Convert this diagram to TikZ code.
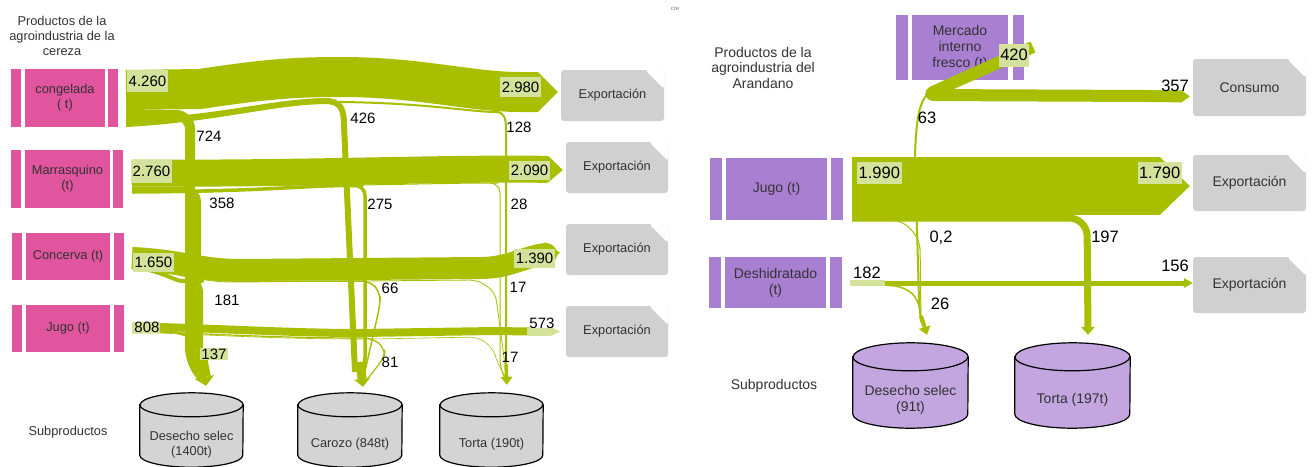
\documentclass[tikz,border=0pt]{standalone}
\usepackage{fontspec}
\setmainfont{Liberation Sans}
\usetikzlibrary{arrows.meta,positioning,calc}

\definecolor{cherry}{HTML}{E0559D}
\definecolor{berry}{HTML}{A97FD2}
\definecolor{berrycyl}{HTML}{C3A6DF}
\definecolor{lime}{HTML}{A8BF00}
\definecolor{limelight}{HTML}{D5E29C}
\definecolor{boxgray}{HTML}{D0D0D0}
\definecolor{cylgray}{HTML}{D4D4D4}
\definecolor{txt}{HTML}{333333}

\newcommand{\lsize}{\fontsize{12.8}{15}\selectfont}
\newcommand{\lnum}{\fontsize{15}{17}\selectfont}
\newcommand{\rsize}{\fontsize{14}{16}\selectfont}
\newcommand{\rnum}{\fontsize{16.5}{18}\selectfont}

% drum shape around a node: node, x radius, y radius, fill
\newcommand{\drum}[4]{%
  \filldraw[fill=#4,draw=black,line width=1.2pt]
    ([yshift=-#3]#1.north west) -- ([yshift=#3]#1.south west)
    arc[start angle=180,end angle=360,x radius=#2,y radius=#3]
    -- ([yshift=-#3]#1.north east)
    arc[start angle=0,end angle=180,x radius=#2,y radius=#3] -- cycle;
  \draw[line width=1.2pt] ([yshift=-#3]#1.north west)
    arc[start angle=180,end angle=360,x radius=#2,y radius=#3];}

\begin{document}
\begin{tikzpicture}[x=1pt,y=-1pt,
    prod/.style={fill=#1,text=txt,align=center,inner sep=0pt},
    bar/.style={fill=#1,minimum width=10pt,inner sep=0pt},
    outbox/.style={rectangle,fill=boxgray,rounded corners=3pt,text=txt,inner sep=0pt,
      path picture={\fill[white] ([xshift=-19pt]path picture bounding box.north east)
        -- (path picture bounding box.north east)
        -- ([yshift=-19pt]path picture bounding box.north east) -- cycle;}},
    cylbox/.style={inner sep=0pt},
    flow/.style={draw=lime,line width=#1,line join=round},
    pale/.style={draw=limelight,line width=#1},
    flowhead/.style 2 args={-{Triangle[length=#1,width=#2,line width=0pt]}},
    val/.style={fill=limelight,inner sep=1.5pt,text=black},
    num/.style={text=black,inner sep=0pt},
    ttl/.style={align=center,text=txt,inner sep=0pt}
  ]
  \fill[white] (0,0) rectangle (1313,466);
  \useasboundingbox (0,0) rectangle (1313,466);

  % ---------- cereza ----------
  \node[ttl,font=\lsize] (lttl) at (62,35.5) {Productos de la\\agroindustria de la\\cereza};
  \node[ttl,font=\lsize] (lsub) at (68,432) {Subproductos};
  \node[ttl,font=\fontsize{6}{7}\selectfont,text=gray] (cre) at (675,9) {cre};

  \node[prod=cherry,font=\lsize,minimum width=80pt,minimum height=58pt] (cong) at (65,98) {congelada\\( t)};
  \node[bar=cherry,minimum height=58pt,left=3.5pt of cong] (congL) {};
  \node[bar=cherry,minimum height=58pt,right=3pt of cong] (congR) {};
  \node[prod=cherry,font=\lsize,minimum width=85pt,minimum height=58pt] (mar) at (67.5,179) {Marrasquino\\(t)};
  \node[bar=cherry,minimum height=58pt,left=3.5pt of mar] (marL) {};
  \node[bar=cherry,minimum height=58pt,right=3pt of mar] (marR) {};
  \node[prod=cherry,font=\lsize,minimum width=84pt,minimum height=47pt] (con) at (68,256.5) {Concerva (t)};
  \node[bar=cherry,minimum height=47pt,left=4pt of con] (conL) {};
  \node[bar=cherry,minimum height=47pt,right=4pt of con] (conR) {};
  \node[prod=cherry,font=\lsize,minimum width=84pt,minimum height=47pt] (jug) at (68,328.5) {Jugo (t)};
  \node[bar=cherry,minimum height=47pt,left=4pt of jug] (jugL) {};
  \node[bar=cherry,minimum height=47pt,right=4pt of jug] (jugR) {};

  % destinos
  \node[outbox,font=\lsize,minimum width=103pt,minimum height=51pt] (ex1) at (612.5,95.5) {Exportación};
  \node[outbox,font=\lsize,minimum width=102pt,minimum height=51pt] (ex2) at (617,167.5) {Exportación};
  \node[outbox,font=\lsize,minimum width=102pt,minimum height=51pt] (ex3) at (617,249.5) {Exportación};
  \node[outbox,font=\lsize,minimum width=102pt,minimum height=51pt] (ex4) at (617,331.5) {Exportación};

  % subproductos
  \node[cylbox,minimum width=103pt,minimum height=74pt] (des) at (191.5,430) {};
  \node[cylbox,minimum width=104pt,minimum height=74pt] (car) at (350,430) {};
  \node[cylbox,minimum width=103pt,minimum height=74pt] (tor) at (491.5,430) {};
  \drum{des}{51.5pt}{12pt}{cylgray}
  \drum{car}{52pt}{12pt}{cylgray}
  \drum{tor}{51.5pt}{12pt}{cylgray}
  \node[ttl,font=\lsize] (desT) at (191.5,445) {Desecho selec\\(1400t)};
  \node[ttl,font=\lsize] (carT) at (350,444) {Carozo (848t)};
  \node[ttl,font=\lsize] (torT) at (491.5,444) {Torta (190t)};

  % congelada
  \coordinate (cgS) at (126,90);
  \draw[flow=40,flowhead={20pt}{40pt}] (cgS) -- (200,89) .. controls (260,80) and (290,77) .. (340,77)
    .. controls (420,77) and (470,92) .. (520,92) -- ($(ex1.west)+(-3,-3.5)$);
  \draw[flow=10,rounded corners=14pt] (126,115) -- (190,115) -- (190,362) -- (203,378);
  \draw[flow=6] (126,122) .. controls (220,119) and (270,102) .. (325,101)
    .. controls (340,101) and (344,108) .. (344,125) -- (355,372);
  \draw[flow=2] (126,126) .. controls (220,121) and (270,103) .. (330,102)
    .. controls (420,102) and (470,112) .. (496,112) .. controls (503,112) and (506,117) .. (506,128) -- (506,372);

  % marrasquino
  \coordinate (mrS) at (132,173);
  \draw[flow=27,flowhead={15pt}{27pt}] (mrS) .. controls (300,174) and (400,169) .. (530,169) -- ($(ex2.west)+(-3,2.5)$);
  \draw[flow=6,rounded corners=12pt] (132,189.5) -- (198,189.5) -- (198,362) -- (203,378);
  \draw[flow=3.5,rounded corners=10pt] (132,191.5) .. controls (250,192) and (300,186) .. (352,185.5)
    -- (365,185.5) -- (365,368) -- (362,380);
  \draw[flow=1,rounded corners=10pt] (132,193) .. controls (250,193) and (300,186) .. (360,185)
    .. controls (420,184) and (470,183) .. (488,183) -- (500,183) -- (500,370) -- (506,380);

  % concerva
  \coordinate (cvS) at (132,258);
  \draw[flow=22,flowhead={14pt}{24pt}] (cvS) .. controls (180,260) and (200,270) .. (240,270) -- (480,268)
    .. controls (510,268) and (525,256) .. (546,254) -- ($(ex3.west)+(-6,3)$);
  \draw[flow=4,rounded corners=10pt] (132,267) .. controls (160,270) and (175,281) .. (192,281)
    -- (201,281) -- (201,362) -- (204,378);
  \draw[flow=1.5,rounded corners=8pt] (132,268) .. controls (180,272) and (200,281) .. (240,281)
    -- (370,281) -- (380,292) -- (380,305) -- (363,380);
  \draw[flow=0.8,rounded corners=8pt] (132,269) .. controls (180,273) and (200,282) .. (240,282)
    -- (478,280) -- (495,292) -- (497,305) -- (507,380);

  % jugo
  \coordinate (jgS) at (132,327.5);
  \draw[flow=8] (jgS) -- (160,327) .. controls (250,330) and (300,333) .. (360,333) -- (495,331) -- (530,331.5);
  \draw[pale=8,flowhead={10pt}{10pt}] (527,331.5) -- ($(ex4.west)+(-6,0)$);
  \draw[flow=2.5,rounded corners=10pt] (132,331) -- (172,331) -- (201,340) -- (203,362) -- (204,378);
  \draw[flow=1.2,rounded corners=8pt] (132,332) -- (160,332) .. controls (250,336) and (300,338) .. (372,338)
    -- (385,348) -- (384,358) -- (365,382);
  \draw[flow=0.6,rounded corners=8pt] (132,333) -- (160,333) .. controls (250,337) and (300,339) .. (372,339)
    -- (478,337) -- (493,348) -- (497,362) -- (507,380);
  \draw[pale=11] (jgS) -- (160,327.5);

  % llegada a subproductos
  \draw[flow=13,flowhead={9pt}{20pt}] (201,360) -- ($(des.north)+(14.5,-7)$);
  \draw[flow=9,flowhead={8pt}{16pt}] (360,362) -- ($(car.north)+(13,-6)$);
  \draw[flow=3.5,flowhead={8pt}{12pt}] (506,365) -- ($(tor.north)+(15.5,-8)$);

  % valores
  \node[val,font=\lnum,anchor=north west,minimum height=22pt] (v4260) at (127,70) {4.260};
  \node[val,font=\lnum,anchor=north east,minimum height=20pt] (v2980) at (541,77) {2.980};
  \node[val,font=\lnum,anchor=north west,minimum height=23pt] (v2760) at (131,160) {2.760};
  \node[val,font=\lnum,anchor=north east,minimum height=19pt] (v2090) at (550,161) {2.090};
  \node[val,font=\lnum,anchor=north west,minimum height=19pt] (v1650) at (133,253) {1.650};
  \node[val,font=\lnum,anchor=north east,minimum height=19pt] (v1390) at (555,249) {1.390};
  \node[num,font=\lnum] (v808) at (147,327.5) {808};
  \node[num,font=\lnum] (v573) at (542,323.5) {573};
  \node[val,font=\lnum,inner sep=1pt] (v137) at (214,354) {137};
  \node[num,font=\lnum] (v724) at (209,136) {724};
  \node[num,font=\lnum] (v358) at (222,203) {358};
  \node[num,font=\lnum] (v426) at (363,118) {426};
  \node[num,font=\lnum] (v128) at (519,127) {128};
  \node[num,font=\lnum] (v275) at (380,204) {275};
  \node[num,font=\lnum] (v28) at (519,204) {28};
  \node[num,font=\lnum] (v181) at (227,300) {181};
  \node[num,font=\lnum] (v66) at (390,288) {66};
  \node[num,font=\lnum] (v17a) at (518,287) {17};
  \node[num,font=\lnum] (v81) at (390,362) {81};
  \node[num,font=\lnum] (v17b) at (510,357) {17};

  % ---------- arandano ----------
  \node[ttl,font=\fontsize{14}{15.5}\selectfont] (rttl) at (763,67.5) {Productos de la\\agroindustria del\\Arandano};
  \node[ttl,font=\rsize] (rsub) at (774,386) {Subproductos};

  \node[prod=berry,font=\fontsize{14}{16}\selectfont,minimum width=96pt,minimum height=65pt] (mer) at (960,47.5) {Mercado\\interno\\fresco (t)};
  \node[bar=berry,minimum width=12pt,minimum height=65pt,left=4pt of mer] (merL) {};
  \node[bar=berry,minimum width=11pt,minimum height=65pt,right=5pt of mer] (merR) {};
  \node[prod=berry,font=\rsize,minimum width=101pt,minimum height=62pt] (jga) at (776.5,189) {Jugo (t)};
  \node[bar=berry,minimum width=12pt,minimum height=62pt,left=4pt of jga] (jgaL) {};
  \node[bar=berry,minimum width=12pt,minimum height=62pt,right=4pt of jga] (jgaR) {};
  \node[prod=berry,font=\rsize,minimum width=101pt,minimum height=51pt] (dsh) at (775.5,282.5) {Deshidratado\\(t)};
  \node[bar=berry,minimum width=12pt,minimum height=51pt,left=4pt of dsh] (dshL) {};
  \node[bar=berry,minimum width=12pt,minimum height=51pt,right=4pt of dsh] (dshR) {};

  \node[outbox,font=\rsize,minimum width=113pt,minimum height=57pt] (cons) at (1249.5,87.5) {Consumo};
  \node[outbox,font=\rsize,minimum width=113pt,minimum height=56pt] (ex5) at (1249.5,183) {Exportación};
  \node[outbox,font=\rsize,minimum width=113pt,minimum height=56pt] (ex6) at (1249.5,285) {Exportación};

  \node[cylbox,minimum width=115pt,minimum height=85pt] (des2) at (910.5,385.5) {};
  \node[cylbox,minimum width=115pt,minimum height=85pt] (tor2) at (1072.5,385.5) {};
  \drum{des2}{57.5pt}{14pt}{berrycyl}
  \drum{tor2}{57.5pt}{14pt}{berrycyl}
  \node[ttl,font=\rsize] (des2T) at (910.5,400) {Desecho selec\\(91t)};
  \node[ttl,font=\rsize] (tor2T) at (1072.5,400) {Torta (197t)};

  % mercado interno
  \coordinate (mkS) at (1033,47);
  \draw[flow=12,rounded corners=9pt,flowhead={9pt}{13pt}] (mkS) -- (926,95) -- (1150,96) -- ($(cons.west)+(-3,9)$);
  \draw[flow=2] (930,92) .. controls (919,100) and (916,120) .. (915,157) -- (919,300) -- (921,322);

  % jugo
  \coordinate (jaS) at (852,186);
  \draw[flow=58,flowhead={30pt}{58pt}] (jaS) -- ($(ex5.west)+(-3,3)$);
  \draw[flow=7,rounded corners=18pt,flowhead={8pt}{14pt}] (852,218) -- (1087,218) -- ($(tor2.north)+(15.5,-8)$);
  \draw[flow=1,rounded corners=10pt] (852,220.5) -- (903,220.5) -- (920,240) -- (921,322);

  % deshidratado
  \coordinate (dhS) at (850,283);
  \draw[flow=5,flowhead={9pt}{10pt}] (dhS) -- ($(ex6.west)+(0,-2)$);
  \draw[flow=1.5,rounded corners=10pt] (885,285) -- (905,287) -- (919,300) -- (921,322);
  \draw[pale=6] (dhS) -- (885,283);
  \draw[flow=4,flowhead={8pt}{12pt}] (921,316) -- ($(des2.north)+(16.5,-8)$);

  % valores
  \node[val,font=\rnum,inner sep=1pt,minimum height=23pt] (v420) at (1014,55) {420};
  \node[num,font=\rnum] (v357) at (1175,86) {357};
  \node[num,font=\rnum] (v63) at (927,118) {63};
  \node[val,font=\rnum,anchor=north west,minimum height=22pt] (v1990) at (857,162) {1.990};
  \node[val,font=\rnum,anchor=north east,minimum height=22pt] (v1790) at (1182,162) {1.790};
  \node[num,font=\rnum] (v02) at (941,238) {0,2};
  \node[num,font=\rnum] (v197) at (1105,237) {197};
  \node[num,font=\rnum] (v182) at (867,273) {182};
  \node[num,font=\rnum] (v156) at (1175,266) {156};
  \node[num,font=\rnum] (v26) at (940,304) {26};
\end{tikzpicture}
\end{document}
